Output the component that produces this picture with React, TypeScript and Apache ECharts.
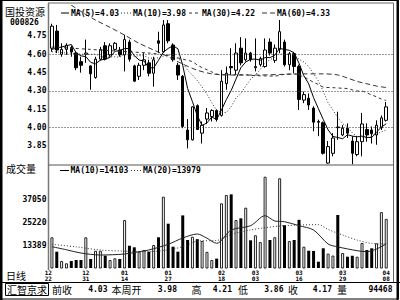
import React, { useEffect, useRef } from "react";
import * as echarts from "echarts";

// ---------- data ----------
const opens = [4.65, 4.79, 4.6, 4.64, 4.655, 4.61, 4.54, 4.6, 4.505, 4.41, 4.56, 4.67, 4.595, 4.64, 4.635, 4.595, 4.7, 4.505, 4.42, 4.51, 4.53, 4.445, 4.71, 4.62, 4.85, 4.676, 4.51, 4.42, 3.98, 3.9, 4.18, 3.955, 4.07, 4.09, 4.14, 4.1, 4.36, 4.5, 4.47, 4.65, 4.555, 4.61, 4.49, 4.515, 4.5, 4.7, 4.55, 4.64, 4.7, 4.515, 4.605, 4.5, 4.225, 4.24, 4.16, 4.05, 4.04, 3.71, 3.79, 4.005, 3.94, 3.995, 3.89, 3.78, 3.885, 3.985, 3.98, 3.94, 4.0, 4.06];
const closes = [4.83, 4.635, 4.64, 4.675, 4.62, 4.49, 4.51, 4.61, 4.44, 4.56, 4.64, 4.56, 4.67, 4.69, 4.595, 4.72, 4.56, 4.38, 4.51, 4.555, 4.445, 4.555, 4.69, 4.84, 4.71, 4.555, 4.43, 4.01, 3.9, 4.17, 3.985, 4.02, 4.12, 4.14, 4.067, 4.38, 4.445, 4.49, 4.61, 4.53, 4.61, 4.555, 4.5, 4.565, 4.635, 4.61, 4.65, 4.785, 4.515, 4.605, 4.5, 4.23, 4.27, 4.185, 4.045, 4.045, 3.79, 3.845, 3.915, 4.0, 3.995, 3.955, 3.79, 3.885, 4.03, 3.94, 3.95, 4.02, 4.08, 4.17];
const lows = [4.62, 4.61, 4.58, 4.595, 4.58, 4.47, 4.45, 4.53, 4.31, 4.4, 4.55, 4.55, 4.58, 4.63, 4.58, 4.46, 4.54, 4.375, 4.39, 4.47, 4.42, 4.335, 4.61, 4.61, 4.69, 4.54, 4.39, 3.995, 3.83, 3.895, 3.98, 3.87, 4.03, 4.05, 4.05, 4.09, 4.31, 4.43, 4.43, 4.51, 4.54, 4.54, 4.46, 4.5, 4.49, 4.59, 4.53, 4.61, 4.5, 4.47, 4.445, 4.145, 4.2, 4.145, 3.97, 3.93, 3.78, 3.705, 3.765, 3.9, 3.93, 3.915, 3.7, 3.765, 3.765, 3.885, 3.87, 3.86, 3.98, 4.05];
const highs = [4.85, 4.84, 4.69, 4.69, 4.67, 4.62, 4.58, 4.72, 4.51, 4.58, 4.66, 4.7, 4.69, 4.7, 4.66, 4.76, 4.72, 4.515, 4.53, 4.61, 4.555, 4.58, 4.785, 4.88, 4.88, 4.69, 4.53, 4.43, 4.07, 4.175, 4.19, 4.05, 4.16, 4.15, 4.15, 4.47, 4.5, 4.65, 4.69, 4.74, 4.73, 4.62, 4.73, 4.58, 4.73, 4.73, 4.68, 4.88, 4.72, 4.62, 4.62, 4.515, 4.295, 4.28, 4.175, 4.065, 4.05, 3.89, 3.955, 4.13, 4.02, 4.035, 3.93, 3.93, 4.12, 4.035, 4.01, 4.06, 4.1, 4.21];
const volumes = [17450, 10000, 5180, 4000, 5180, 5700, 5700, 17450, 6220, 10500, 10500, 7930, 5700, 6580, 6220, 26400, 13100, 12270, 10000, 10880, 10000, 13460, 17450, 38470, 24500, 12590, 10000, 28800, 16050, 17760, 16500, 15540, 9900, 5700, 6400, 35050, 39350, 39700, 26400, 27290, 32770, 15900, 18500, 15000, 48820, 16050, 17500, 48000, 23700, 15500, 16050, 26500, 12590, 10500, 10390, 4820, 11760, 9000, 7990, 29000, 9300, 7400, 7900, 7400, 14500, 10880, 11760, 14340, 30500, 27000];

const ma5 = [4.64, 4.65, 4.66, 4.67, 4.68, 4.612, 4.587, 4.581, 4.534, 4.522, 4.552, 4.562, 4.574, 4.624, 4.631, 4.647, 4.647, 4.589, 4.553, 4.545, 4.49, 4.489, 4.551, 4.617, 4.648, 4.67, 4.645, 4.509, 4.321, 4.213, 4.099, 4.017, 4.039, 4.087, 4.066, 4.145, 4.23, 4.304, 4.398, 4.491, 4.537, 4.559, 4.561, 4.552, 4.573, 4.573, 4.592, 4.649, 4.639, 4.633, 4.611, 4.527, 4.424, 4.358, 4.246, 4.155, 4.067, 3.982, 3.928, 3.919, 3.909, 3.942, 3.931, 3.925, 3.931, 3.92, 3.919, 3.965, 4.004, 4.032];
const ma10 = [4.62, 4.62, 4.615, 4.61, 4.61, 4.605, 4.6, 4.6, 4.6, 4.601, 4.582, 4.575, 4.578, 4.579, 4.577, 4.6, 4.605, 4.582, 4.589, 4.588, 4.569, 4.568, 4.57, 4.585, 4.597, 4.58, 4.567, 4.53, 4.469, 4.431, 4.385, 4.331, 4.274, 4.204, 4.14, 4.122, 4.124, 4.172, 4.243, 4.279, 4.341, 4.395, 4.433, 4.475, 4.532, 4.555, 4.576, 4.605, 4.596, 4.603, 4.592, 4.56, 4.537, 4.499, 4.44, 4.383, 4.297, 4.203, 4.143, 4.083, 4.032, 4.005, 3.957, 3.927, 3.925, 3.915, 3.931, 3.948, 3.965, 3.981];
const ma30Pts = [[0, 4.66], [4, 4.65], [8, 4.64], [12, 4.63], [16, 4.62], [20, 4.61], [24, 4.59], [27, 4.56], [29, 4.54], [30, 4.512], [31, 4.491], [32, 4.474], [33, 4.456], [34, 4.438], [36, 4.432], [38, 4.434], [40, 4.432], [42, 4.426], [44, 4.423], [46, 4.422], [48, 4.436], [50, 4.439], [51, 4.429], [52, 4.415], [53, 4.393], [54, 4.371], [55, 4.353], [56, 4.332], [58, 4.327], [60, 4.322], [61, 4.32], [62, 4.309], [63, 4.3], [64, 4.299], [65, 4.284], [66, 4.268], [67, 4.252], [68, 4.234], [69, 4.222]];
const ma60Pts = [[0, 5.12], [3, 5.03], [6, 4.95], [9, 4.88], [12, 4.82], [15, 4.757], [18, 4.69], [21, 4.635], [24, 4.58], [27, 4.52], [30, 4.47], [33, 4.44], [37, 4.43], [42, 4.43], [47, 4.435], [52, 4.44], [56, 4.44], [59, 4.431], [61, 4.406], [63, 4.378], [65, 4.359], [67, 4.34], [69, 4.328]];
const volMa10Pts = [[0, 12590], [3, 11000], [6, 9300], [10, 8290], [15, 8800], [18, 10000], [20, 10880], [24, 13830], [27, 17090], [30, 19160], [32, 17000], [34, 14340], [37, 21230], [41, 23460], [44, 28630], [46, 25890], [48, 25530], [51, 23460], [54, 21230], [57, 14000], [59, 12500], [63, 10520], [65, 10000], [67, 11390], [69, 14103]];
const volMa20Pts = [[0, 13830], [5, 12500], [10, 10880], [15, 10300], [20, 10000], [25, 11390], [28, 13460], [30, 15500], [34, 15800], [37, 19000], [41, 21230], [44, 22420], [48, 23460], [55, 24000], [57, 21500], [60, 18640], [63, 16000], [66, 14300], [69, 13979]];

const tickIndex = [0, 7, 15, 24, 35, 42, 51, 60, 69];
const tickLabels = ["12\n22", "12\n31", "01\n14", "01\n27", "02\n18", "03\n03", "03\n16", "03\n29", "04\n08"];
const priceTicks = [3.85, 4.0, 4.15, 4.3, 4.45, 4.6, 4.75];
const priceGridLines = [4.0, 4.3, 4.6];
const volTicks = [13389, 25220, 37050];
const statusLabels = ["前收", "本周开", "高", "低", "收", "量"];
const statusValues = ["4.03", "3.98", "4.21", "3.86", "4.17", "94468"];
const stockName = "国投资源";
const stockCode = "000826";

// ---------- layout / style ----------
const N = closes.length;
const categories = Array.from({ length: N + 1 }, (_, i) => String(i));
const MONO = "DejaVu Sans Mono";
const FONT_MONO = `bold 8px "${MONO}"`;
const FONT_CJK = `10px "Noto Sans CJK SC"`;
const statusLabelX = [52, 111.5, 191.5, 238, 288, 337];
const statusValueRight = [107.5, 177, 232, 283.5, 332, 392.5];

const T = (x: number, y: number, text: string, font: string, align = "left") => ({
  type: "text",
  x,
  y,
  silent: true,
  z: 100,
  style: { text, font, fill: "#000", align, verticalAlign: "middle", textAlign: align, textVerticalAlign: "middle" },
});
const L = (x1: number, y1: number, x2: number, y2: number, stroke = "#000", lineWidth = 1, lineDash?: number[]) => ({
  type: "line",
  silent: true,
  z: 100,
  shape: { x1, y1, x2, y2 },
  style: { stroke, lineWidth, lineDash },
});

const DOT = [1, 2];
const DASH30 = [3, 3];
const DASH60 = [5, 3];

function buildOption() {
  const candles = opens.map((o, i) => [o, closes[i], lows[i], highs[i]]);
  const volData = volumes.map((v, i) => ({
    value: v,
    itemStyle:
      closes[i] >= opens[i]
        ? { color: "#fff", borderColor: "#222", borderWidth: 1 }
        : { color: "#000", borderColor: "#000", borderWidth: 0 },
  }));
  const last = (a: number[][]) => a[a.length - 1][1];

  const graphic: any[] = [
    { type: "rect", silent: true, z: 100, shape: { x: 0.5, y: 0.5, width: 398, height: 298.5 }, style: { fill: "none", stroke: "#000", lineWidth: 1 } },
    L(1.25, 0, 1.25, 300, "#000", 2.5),
    L(397.5, 0, 397.5, 300, "#000", 2),
    L(393.5, 3, 393.5, 282, "#666", 1),
    L(48, 3, 393.5, 3, "#666", 1),
    L(48.5, 3, 48.5, 270, "#777", 1.5),
    L(48.5, 165, 393.5, 165, "#555", 1),
    L(0, 282.5, 400, 282.5, "#000", 1),
    { type: "rect", silent: true, z: 100, shape: { x: 5.5, y: 283.5, width: 43, height: 12 }, style: { fill: "none", stroke: "#000", lineWidth: 1 } },
    T(5, 11.5, stockName, FONT_CJK),
    T(10, 22.5, stockCode, FONT_MONO),
    T(6, 168, "成交量", FONT_CJK),
    T(6, 275, "日线", FONT_CJK),
    T(27, 289.5, "汇智京求", FONT_CJK, "center"),
    // price legend
    L(61, 13, 69, 13, "#000", 1),
    T(71, 13, `MA(5)=${ma5[N - 1].toFixed(2)}`, FONT_MONO),
    L(121, 13, 131, 13, "#333", 1, DOT),
    T(133, 13, `MA(10)=${ma10[N - 1].toFixed(2)}`, FONT_MONO),
    L(189, 13, 200, 13, "#333", 1, DASH30),
    T(202, 13, `MA(30)=${last(ma30Pts).toFixed(2)}`, FONT_MONO),
    L(262, 13, 275, 13, "#333", 1, DASH60),
    T(277, 13, `MA(60)=${last(ma60Pts).toFixed(2)}`, FONT_MONO),
    // volume legend
    L(60, 170.5, 69, 170.5, "#000", 1),
    T(70.5, 170.5, `MA(10)=${last(volMa10Pts)}`, FONT_MONO),
    L(131, 170.5, 142, 170.5, "#333", 1, DOT),
    T(143, 170.5, `MA(20)=${last(volMa20Pts)}`, FONT_MONO),
  ];
  statusLabels.forEach((s, i) => graphic.push(T(statusLabelX[i], 289.5, s, FONT_CJK)));
  statusValues.forEach((s, i) => graphic.push(T(statusValueRight[i], 289.5, s, FONT_MONO, "right")));

  const lineBase = { type: "line", symbol: "none", showSymbol: false, silent: true, clip: true, connectNulls: true };

  return {
    animation: false,
    backgroundColor: "#fff",
    graphic,
    grid: [
      { left: 49.5, top: 5.4, width: 344, height: 158.9, containLabel: false },
      { left: 49.5, top: 165, width: 344, height: 103, containLabel: false },
    ],
    xAxis: [
      { type: "category", gridIndex: 0, data: categories, boundaryGap: true, axisLine: { show: false }, axisTick: { show: false }, axisLabel: { show: false }, splitLine: { show: false } },
      {
        type: "category",
        gridIndex: 1,
        data: categories,
        boundaryGap: true,
        axisLine: { show: false },
        axisTick: { show: false },
        splitLine: { show: false },
        axisLabel: {
          interval: (i: number) => tickIndex.includes(i),
          formatter: (v: string) => {
            const k = tickIndex.indexOf(Number(v));
            return k >= 0 ? tickLabels[k] : "";
          },
          fontFamily: MONO,
          fontWeight: "bold",
          fontSize: 6,
          lineHeight: 6,
          color: "#000",
          margin: 1.5,
          alignMinLabel: "right",
        },
      },
    ],
    yAxis: [
      {
        type: "value",
        gridIndex: 0,
        min: 3.7,
        max: 5.0,
        axisLine: { show: false },
        axisTick: { show: false },
        splitLine: { show: false },
        axisLabel: { customValues: priceTicks, formatter: (v: number) => v.toFixed(2), fontFamily: MONO, fontWeight: "bold", fontSize: 8, color: "#000", margin: 3 },
      },
      {
        type: "value",
        gridIndex: 1,
        min: 1558,
        max: 54880,
        axisLine: { show: false },
        axisTick: { show: false },
        splitLine: { show: false },
        axisLabel: { customValues: volTicks, formatter: (v: number) => String(Math.round(v)), fontFamily: MONO, fontWeight: "bold", fontSize: 8, color: "#000", margin: 3 },
      },
    ],
    series: [
      {
        type: "candlestick",
        xAxisIndex: 0,
        yAxisIndex: 0,
        data: candles,
        barWidth: 3,
        silent: true,
        itemStyle: { color: "#fff", color0: "#000", borderColor: "#000", borderColor0: "#000", borderColorDoji: "#000", borderWidth: 1 },
        markLine: {
          silent: true,
          symbol: "none",
          label: { show: false },
          lineStyle: { type: DOT, color: "#333", width: 1 },
          data: priceGridLines.map((v) => ({ yAxis: v })),
        },
      },
      { ...lineBase, name: "MA5", xAxisIndex: 0, yAxisIndex: 0, data: ma5, lineStyle: { color: "#000", width: 1 } },
      { ...lineBase, name: "MA10", xAxisIndex: 0, yAxisIndex: 0, data: ma10, lineStyle: { color: "#333", width: 1, type: DOT } },
      { ...lineBase, name: "MA30", xAxisIndex: 0, yAxisIndex: 0, data: ma30Pts, smooth: 0.3, lineStyle: { color: "#333", width: 1, type: DASH30 } },
      { ...lineBase, name: "MA60", xAxisIndex: 0, yAxisIndex: 0, data: ma60Pts, smooth: 0.3, lineStyle: { color: "#333", width: 1, type: DASH60 } },
      { type: "bar", xAxisIndex: 1, yAxisIndex: 1, data: volData, barWidth: 3, silent: true },
      { ...lineBase, name: "VMA10", xAxisIndex: 1, yAxisIndex: 1, data: volMa10Pts, smooth: 0.3, lineStyle: { color: "#222", width: 1 } },
      { ...lineBase, name: "VMA20", xAxisIndex: 1, yAxisIndex: 1, data: volMa20Pts, smooth: 0.3, lineStyle: { color: "#333", width: 1, type: DOT } },
    ],
  };
}

export default function App() {
  const ref = useRef<HTMLDivElement>(null);
  useEffect(() => {
    const chart = echarts.init(ref.current!, null, { renderer: "svg" });
    chart.setOption(buildOption() as any);
    return () => chart.dispose();
  }, []);
  return <div ref={ref} style={{ position: "fixed", left: 0, top: 0, width: 400, height: 300, background: "#fff" }} />;
}
